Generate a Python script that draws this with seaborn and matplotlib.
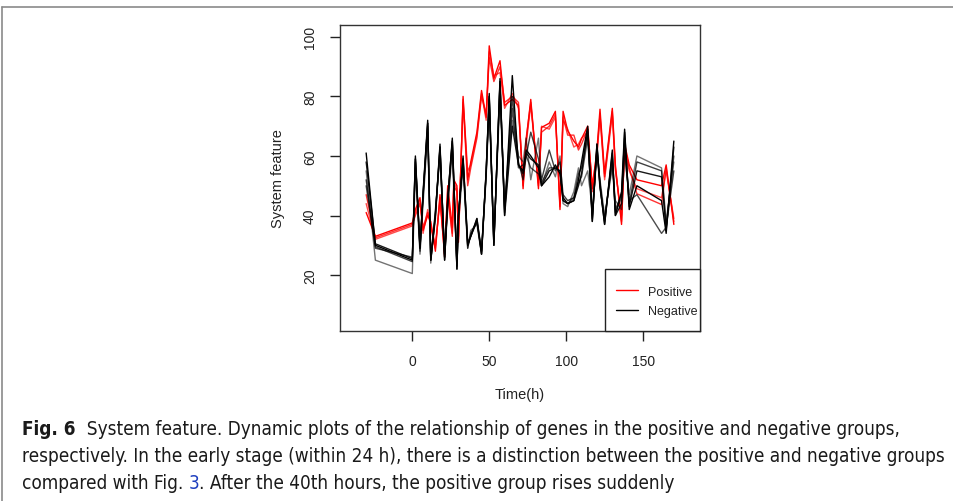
import matplotlib
matplotlib.use("Agg")
import matplotlib.pyplot as plt
from matplotlib import font_manager
from matplotlib.font_manager import FontProperties
from matplotlib.lines import Line2D
from matplotlib.patches import Rectangle
import seaborn as sns

# ---------------- data ----------------
time_h = [-30, -24, 0, 2, 5, 7, 10, 12, 15, 18, 21, 23, 26, 27, 29, 30, 33, 36, 38, 42,
          45, 48, 50, 53, 57, 60, 65, 69, 72, 74, 77, 82, 84, 89, 93, 96, 98, 101, 105, 108,
          110, 114, 117, 120, 122, 125, 130, 132, 136, 138, 141, 146, 162, 165, 170]

pos_gene1 = [41, 33, 37.5, 42, 46, 35, 40, 38, 28, 47, 26, 50, 36, 52, 50, 31, 80, 52, 58, 68,
             82, 73, 97, 86, 92, 77, 79, 77, 49, 65, 79, 49, 69.6, 71, 75, 42, 75, 68.5, 65, 63,
             65.8, 70, 49, 62, 75.7, 54, 76, 57, 37, 64, 57, 52, 50, 57, 37]
pos_gene2 = [47, 32.5, 37, 40, 44, 36, 41, 37, 30, 45, 27, 48, 33, 50, 48, 33, 78, 50, 56, 66,
             80, 74, 93, 85, 90, 78, 80, 78, 50, 66, 78, 50, 68, 70, 74, 43, 73, 67, 67, 62,
             64, 69, 50, 61, 74, 53, 75, 56, 38, 63, 56, 47.3, 43.7, 56, 38]
pos_gene3 = [44, 32, 36.5, 41, 45, 34, 42, 36, 29, 46, 28, 46, 34, 51, 49, 32, 79, 55, 57, 67,
             81, 72, 95, 87, 88, 76, 81, 76, 51, 64, 77, 51, 70, 69, 73, 44, 72, 69, 63, 64,
             66, 68, 48, 60, 73, 52, 74, 55, 40, 62, 55, 49, 46, 55, 39]

neg_gene1 = [61, 30, 25, 60, 29, 48, 72, 25, 40, 64, 25, 45, 66, 52, 22, 40, 60, 30, 33, 39,
             27, 55, 81, 30, 86, 40, 87, 57, 55, 62, 60, 56, 50, 53, 57, 54, 46, 44, 45, 52,
             58, 70, 38, 64, 50, 37, 62, 40, 48, 69, 42, 50, 45, 34, 65]
neg_gene2 = [52, 29.5, 24.5, 58, 30, 46, 70, 26, 41, 62, 27, 44, 64, 50, 24, 41, 58, 29, 34, 38,
             28, 54, 79, 31, 84, 42, 80, 58, 52, 60, 68, 59, 52, 62, 55, 58, 47, 45, 46, 54,
             56, 68, 39, 63, 51, 38, 60, 42, 47, 66, 44, 58, 55, 36, 55]
neg_gene3 = [55, 25, 20.5, 56, 27, 44, 68, 24, 42, 60, 26, 42, 62, 48, 23, 38, 56, 29, 35, 37,
             27, 53, 77, 32, 80, 43, 72, 60, 58, 66, 52, 66, 50, 58, 53, 60, 44, 43, 48, 56,
             50, 55, 42, 60, 52, 40, 56, 45, 42, 60, 47, 60, 56, 38, 58]
neg_gene4 = [50, 29, 26, 59, 28, 47, 71, 25, 39, 63, 26, 46, 65, 51, 23, 40, 59, 31, 33, 39,
             28, 54, 80, 30, 85, 41, 76, 56, 57, 60, 56, 54, 51, 56, 56, 55, 45, 44, 46, 51,
             53, 66, 40, 62, 49, 39, 58, 41, 46, 62, 45, 47, 34, 36, 60]
neg_gene5 = [58, 30.5, 25.5, 59, 29, 47, 71, 25, 40, 63, 25, 45, 65, 51, 22, 40, 59, 30, 33, 38,
             27, 55, 80, 30, 85, 40, 70, 57, 54, 61, 59, 57, 50, 55, 56, 55, 45, 44, 45, 50,
             54, 69, 38, 64, 50, 37, 61, 40, 44, 68, 43, 55, 53, 35, 63]

positive_lines = [pos_gene1, pos_gene2, pos_gene3]
negative_lines = [neg_gene1, neg_gene2, neg_gene3, neg_gene4, neg_gene5]
group_labels = ["Positive", "Negative"]

x_ticks = [0, 50, 100, 150]
y_ticks = [20, 40, 60, 80, 100]

caption_bold = "Fig. 6"
caption_line1 = "  System feature. Dynamic plots of the relationship of genes in the positive and negative groups,"
caption_line2 = "respectively. In the early stage (within 24 h), there is a distinction between the positive and negative groups"
caption_line3a = "compared with Fig. "
caption_line3b = "3"
caption_line3c = ". After the 40th hours, the positive group rises suddenly"

# ---------------- style ----------------
sns.set_theme(style="white")
plt.rcParams["font.family"] = ["Liberation Sans", "DejaVu Sans"]
plt.rcParams["font.sans-serif"] = ["Liberation Sans", "DejaVu Sans"]
chart_fp = FontProperties(family="Liberation Sans")

# caption font: a condensed face if one is installed (looked up without touching defaults)
cap_reg_file = None
cap_bold_file = None
for fe in font_manager.fontManager.ttflist:
    if fe.name == "DejaVu Sans" and "condensed" in str(fe.stretch).lower() \
            and fe.style == "normal":
        if str(fe.weight) in ("bold", "700"):
            cap_bold_file = fe.fname
        elif str(fe.weight) in ("normal", "400", "book", "regular"):
            cap_reg_file = fe.fname
if cap_reg_file is None:
    for fe in font_manager.fontManager.ttflist:
        if "DejaVuSansCondensed.ttf" in fe.fname:
            cap_reg_file = fe.fname
        if "DejaVuSansCondensed-Bold.ttf" in fe.fname:
            cap_bold_file = fe.fname
if cap_reg_file:
    cap_fp = FontProperties(fname=cap_reg_file)
    cap_fp_bold = FontProperties(fname=cap_bold_file) if cap_bold_file else \
        FontProperties(fname=cap_reg_file, weight="bold")
else:
    cap_fp = FontProperties(family="Liberation Sans")
    cap_fp_bold = FontProperties(family="Liberation Sans", weight="bold")

fig = plt.figure(figsize=(9.54, 5.02), dpi=100)
ax = fig.add_axes([340 / 954, 1 - 332 / 502, 360 / 954, 306 / 502])

alphas_pos = [1.0, 0.8, 0.7]
for vals, a in zip(positive_lines, alphas_pos):
    sns.lineplot(x=time_h, y=vals, ax=ax, color="#ff0000", lw=1.0, alpha=a,
                 estimator=None, sort=False)
alphas_neg = [1.0, 0.75, 0.55, 0.7, 0.9]
for vals, a in zip(negative_lines, alphas_neg):
    sns.lineplot(x=time_h, y=vals, ax=ax, color="#000000", lw=1.0, alpha=a,
                 estimator=None, sort=False)

ax.set_xlim(-47, 187)
ax.set_ylim(1.2, 104)
ax.set_xticks(x_ticks)
ax.set_yticks(y_ticks)
ax.set_xticklabels([str(t) for t in x_ticks], fontproperties=chart_fp, fontsize=10)
ax.set_yticklabels([str(t) for t in y_ticks], rotation=90, va="center",
                   fontproperties=chart_fp, fontsize=10)
ax.tick_params(axis="both", direction="out", length=7.5, width=1, color="#222222",
               labelcolor="#222222", pad=9, bottom=True, left=True)
for s in ax.spines.values():
    s.set_visible(True)
    s.set_color("#333333")
    s.set_linewidth(1)
ax.grid(False)

ax.set_xlabel("Time(h)", fontproperties=chart_fp, fontsize=10.5, color="#222222")
ax.set_ylabel("System feature", fontproperties=chart_fp, fontsize=10.5, color="#222222")
ax.xaxis.set_label_coords(0.5, -(63 / 306))
ax.xaxis.label.set_verticalalignment("center")
ax.yaxis.set_label_coords(-(62 / 360), 0.5)
ax.yaxis.label.set_verticalalignment("center")

# legend: R-style box in the lower-right corner
box = Rectangle(((605 - 340) / 360, 0), 95 / 360, 62 / 306, transform=ax.transAxes,
                facecolor="white", edgecolor="#222222", lw=1, zorder=4, clip_on=False)
ax.add_patch(box)
handles = [Line2D([], [], color="#ff0000", lw=1), Line2D([], [], color="#000000", lw=1)]
leg_fp = FontProperties(family="Liberation Sans", size=9)
leg = ax.legend(handles, group_labels, loc="center left",
                bbox_to_anchor=((616 - 340) / 360, (332 - 302.5) / 306),
                borderaxespad=0, borderpad=0, frameon=False, prop=leg_fp,
                handlelength=1.75, handletextpad=0.8, labelspacing=0.6)
leg.set_zorder(5)
for t in leg.get_texts():
    t.set_color("#222222")

# ---------------- figure border ----------------
fig.add_artist(Line2D([2 / 954, 1.0], [1 - 8 / 502, 1 - 8 / 502], color="#8a8a8a", lw=1.2,
                      transform=fig.transFigure))
fig.add_artist(Line2D([2 / 954, 2 / 954], [0, 1 - 8 / 502], color="#8a8a8a", lw=1.2,
                      transform=fig.transFigure))

# ---------------- caption ----------------
fig.canvas.draw()
renderer = fig.canvas.get_renderer()

probe_fp = cap_fp.copy()
probe_fp.set_size(10)
probe = fig.text(0, 0, caption_line2, fontproperties=probe_fp)
w10 = probe.get_window_extent(renderer).width
probe.remove()
cap_size = min(10 * (945 - 22) / w10, 14.5)

def put(x_px, y_px, s, bold=False, color="#1a1a1a"):
    fp = (cap_fp_bold if bold else cap_fp).copy()
    fp.set_size(cap_size)
    t = fig.text(x_px / 954, 1 - y_px / 502, s, fontproperties=fp, va="center", ha="left",
                 color=color)
    bb = t.get_window_extent(renderer)
    return x_px + bb.width

xe = put(22, 430, caption_bold, bold=True)
put(xe, 430, caption_line1)
put(22, 457, caption_line2)
xe = put(22, 484, caption_line3a)
xe = put(xe, 484, caption_line3b, color="#1f3fbf")
put(xe, 484, caption_line3c)

fig.savefig("out.png", dpi=100)
